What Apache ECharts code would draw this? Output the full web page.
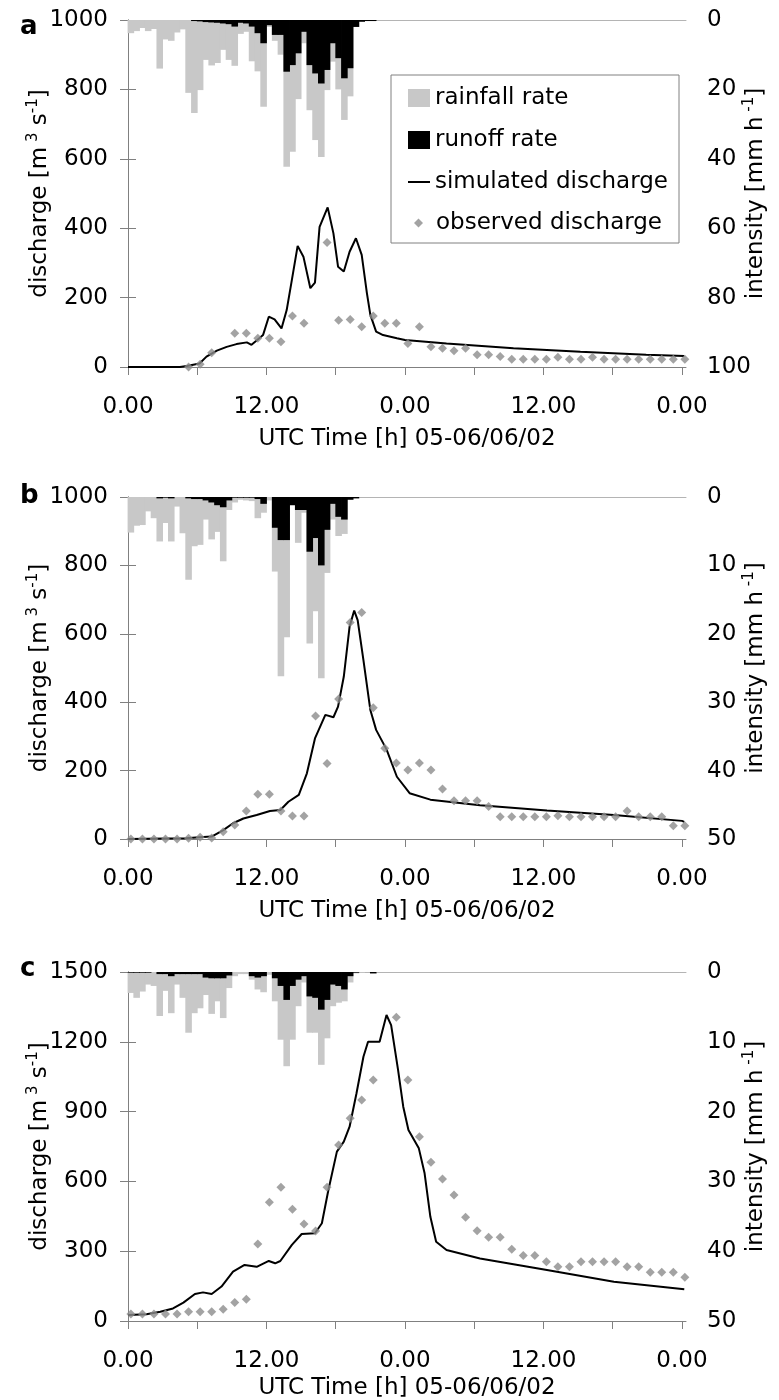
<!DOCTYPE html>
<html><head><meta charset="utf-8">
<script src="https://cdn.jsdelivr.net/npm/echarts@6/dist/echarts.min.js"></script>
<style>html,body{margin:0;padding:0;background:#fff}#c{width:779px;height:1400px}</style>
</head><body><div id="c"></div>
<script>
// ---------- tick labels ----------
const xTickValues = [0, 6, 12, 18, 24, 30, 36, 42, 48];
const xLabelValues = [0, 12, 24, 36, 48];
const xTickLabels = ['0.00', '12.00', '0.00', '12.00', '0.00'];
const panelLetters = ['a', 'b', 'c'];
const leftMax = [1000, 1000, 1500];
const leftInterval = [200, 200, 300];
const rightMax = [100, 50, 50];
const rightInterval = [20, 10, 10];

// ---------- rainfall / runoff rate (mm/h), half-hour bins from 0 h ----------
const rainA = [3.8,3.2,2.3,3.2,2.6,14.0,5.6,6.0,3.6,2.7,21.0,26.8,20.2,11.5,13.1,12.4,8.6,11.5,13.2,4.0,3.4,11.9,14.8,25.0,2.0,6.0,10.0,42.3,38.0,22.8,6.7,26.0,34.6,39.5,20.2,12.0,20.0,28.8,22.0,2.0,0.5,0.3,0.3];
const runA  = [0,0,0,0,0,0,0,0,0,0,0,0.3,0.4,0.6,0.7,0.8,1.0,1.2,1.9,0.8,1.0,1.9,3.8,6.7,1.5,4.3,4.3,14.9,13.0,9.6,3.4,13.0,15.4,18.3,14.4,6.7,11.0,16.8,13.9,2.0,0.5,0.3,0.3];
const rainB = [5.2,4.2,4.1,2.1,3.1,6.5,3.8,6.5,1.4,5.3,12.1,7.2,7.0,3.3,6.2,5.1,9.4,1.9,0.8,0.4,0.5,0.6,3.1,2.3,0.5,10.9,26.2,20.5,1.2,6.7,2.3,21.4,16.7,26.5,11.1,3.3,5.7,5.4,0.4,0.2];
const runB  = [0,0,0,0,0,0.2,0.1,0.2,0,0,0.2,0.3,0.3,0.5,0.8,1.2,1.5,0.5,0.1,0.1,0.1,0.1,0.3,1.0,0,4.5,6.3,6.3,1.2,1.9,1.9,8.0,6.0,10.0,4.8,1.0,2.9,3.3,0.4,0.2];
const rainC = [3.0,3.7,2.8,1.8,2.0,6.3,2.7,5.9,1.8,3.7,8.7,5.9,5.2,3.3,6.0,4.2,6.6,2.3,0.6,0.3,0.3,1.1,2.5,2.9,0.4,4.2,9.7,13.5,9.7,4.9,1.5,8.7,8.7,13.3,9.5,4.9,4.4,4.2,1.5,0.2,0.1,0,0.2];
const runC  = [0.1,0.1,0.1,0.1,0,0.3,0.3,0.6,0.3,0.3,0.3,0.3,0.3,0.8,0.9,0.9,0.9,0.5,0,0,0,0.6,0.8,0.6,0,0.9,2.0,4.0,2.0,1.1,0.6,3.5,3.7,5.4,4.0,1.8,2.0,2.5,0.6,0.1,0,0,0.2];

// ---------- simulated discharge (m3/s): [hour, value] ----------
const simA = [[0,0],[4.5,0],[5.1,3],[6.2,10],[6.8,30],[7.7,47],[8.55,58],[9.4,66],[10.3,71],[10.7,64],[11.2,78],[11.7,92],[12.2,145],[12.7,137],[13.3,111],[13.75,164],[14.2,251],[14.7,349],[15.2,318],[15.8,227],[16.2,243],[16.6,404],[17.3,460],[17.8,385],[18.2,289],[18.7,275],[19.2,332],[19.75,371],[20.25,323],[20.7,213],[21.0,150],[21.5,102],[22.1,92],[23.3,83],[24,78],[27.6,68],[33.4,54],[39.2,44],[44.9,35],[48.2,32]];
const simB = [[0,0],[5,2],[6.2,5],[7.25,7],[8.26,26],[9.1,46],[10.0,60],[11.15,70],[12.3,82],[13.2,85],[13.9,109],[14.8,129],[15.5,192],[16.2,294],[17.1,363],[17.8,356],[18.2,387],[18.7,475],[19.2,621],[19.6,668],[19.9,640],[20.4,523],[21.0,377],[21.5,319],[22.4,262],[23.3,182],[24.4,134],[26.2,115],[30.5,99],[36.3,83],[42.1,70],[48.0,53],[48.2,50]];
const simC = [[0,26],[1.6,29],[2.8,40],[3.9,54],[4.8,79],[5.8,116],[6.5,123],[7.25,116],[8.1,148],[9.1,212],[10.1,241],[11.15,233],[12.2,258],[12.75,248],[13.2,258],[14.2,327],[15.05,374],[16.2,377],[16.8,420],[17.35,560],[18.1,728],[18.7,771],[19.2,835],[19.8,979],[20.4,1136],[20.8,1200],[21.8,1200],[22.4,1315],[22.8,1272],[23.4,1079],[23.85,921],[24.3,821],[25.2,742],[25.7,635],[26.2,448],[26.7,341],[27.6,305],[30.5,269],[36.3,219],[42.1,169],[48.2,136]];

// ---------- observed discharge (m3/s), hourly from 0 h (null = not shown) ----------
const obsA = [null,null,null,null,null,0,8,41,null,97,97,83,83,73,147,126,null,359,135,137,116,147,126,126,68,116,58,54,47,54,35,35,30,22,22,22,22,28,22,22,28,22,22,22,22,22,22,22,22];
const obsB = [0,0,0,0,0,2,5,3,21,41,82,131,131,82,67,67,360,221,409,633,662,384,265,222,202,222,202,146,112,112,112,95,65,65,65,65,65,68,65,65,65,65,65,82,65,65,65,39,39];
const obsC = [30,30,30,30,30,40,40,40,50,79,93,331,510,575,480,417,387,575,756,871,950,1036,null,1305,1036,792,682,610,542,446,388,360,360,308,281,281,255,233,233,255,255,255,255,233,233,209,209,209,188];

const rains = [rainA, rainB, rainC];
const runs = [runA, runB, runC];
const sims = [simA, simB, simC];
const obss = [obsA, obsB, obsC];

// ---------- layout ----------
const FONT = 'DejaVu Sans';
const gridLeft = 128, gridWidth = 558;
const gridTops = [20, 497, 972];
const gridHeights = [347, 342, 349];
const xNameGaps = [61, 61, 56];
const xMax = 48.35;
const binWidthPx = gridWidth / xMax * 0.5 + 0.8;
const axisGray = '#808080';

const chart = echarts.init(document.getElementById('c'), null, {renderer: 'canvas'});

const grid = [], xAxis = [], yAxis = [], series = [], graphic = [];
const txt = {fontFamily: FONT, fontSize: 23, color: '#000'};
const nameRich = {
  t: {fontFamily: FONT, fontSize: 23, color: '#000', lineHeight: 28},
  s: {fontFamily: FONT, fontSize: 15, color: '#000', verticalAlign: 'top', lineHeight: 28}
};
const plainNum = v => String(v);

for (let k = 0; k < 3; k++) {
  grid.push({left: gridLeft, top: gridTops[k], width: gridWidth, height: gridHeights[k], containLabel: false, outerBoundsMode: 'none'});
  xAxis.push({
    type: 'value', gridIndex: k, min: 0, max: xMax, position: 'bottom',
    axisLine: {show: true, lineStyle: {color: axisGray, width: 1}},
    axisTick: {show: true, length: 8, customValues: xTickValues, lineStyle: {color: axisGray}},
    axisLabel: {customValues: xLabelValues, formatter: v => xTickLabels[xLabelValues.indexOf(v)], margin: 29, ...txt},
    splitLine: {show: false},
    name: 'UTC Time [h] 05-06/06/02', nameLocation: 'middle', nameGap: xNameGaps[k], nameMoveOverlap: false,
    nameTextStyle: {...txt}
  });
  xAxis.push({
    type: 'value', gridIndex: k, min: 0, max: xMax, position: 'top',
    axisLine: {show: true, lineStyle: {color: '#b4b4b4', width: 1}},
    axisTick: {show: false}, axisLabel: {show: false}, splitLine: {show: false}
  });
  yAxis.push({
    type: 'value', gridIndex: k, position: 'left', min: 0, max: leftMax[k], interval: leftInterval[k],
    axisLine: {show: true, lineStyle: {color: axisGray}},
    axisTick: {show: true, length: 8, lineStyle: {color: axisGray}},
    axisLabel: {margin: 20, formatter: plainNum, ...txt},
    splitLine: {show: false},
    name: '{t|discharge [m}{s| 3}{t| s}{s|-1}{t|]}', nameLocation: 'middle', nameGap: 74, nameRotate: 90, nameMoveOverlap: false,
    nameTextStyle: {rich: nameRich}
  });
  yAxis.push({
    type: 'value', gridIndex: k, position: 'right', inverse: true, min: 0, max: rightMax[k], interval: rightInterval[k],
    axisLine: {show: true, lineStyle: {color: axisGray}},
    axisTick: {show: true, length: 8, lineStyle: {color: axisGray}},
    axisLabel: {margin: 21, formatter: plainNum, ...txt},
    splitLine: {show: false},
    name: '{t|intensity [mm h}{s| -1}{t|]}', nameLocation: 'middle', nameGap: 56, nameRotate: 90, nameMoveOverlap: false,
    nameTextStyle: {rich: nameRich}
  });

  const binCenter = i => i * 0.5 + 0.25;
  series.push({
    name: 'rainfall rate', type: 'bar', xAxisIndex: 2 * k, yAxisIndex: 2 * k + 1,
    data: rains[k].map((v, i) => [binCenter(i), v]),
    barWidth: binWidthPx, barGap: '-100%', itemStyle: {color: '#c8c8c8'}, z: 1, silent: true
  });
  series.push({
    name: 'runoff rate', type: 'bar', xAxisIndex: 2 * k, yAxisIndex: 2 * k + 1,
    data: runs[k].map((v, i) => [binCenter(i), v]),
    barWidth: binWidthPx, barGap: '-100%', itemStyle: {color: '#000'}, z: 2, silent: true
  });
  series.push({
    name: 'simulated discharge', type: 'line', xAxisIndex: 2 * k, yAxisIndex: 2 * k,
    data: sims[k], symbol: 'none', showSymbol: false,
    lineStyle: {color: '#000', width: 2}, itemStyle: {color: '#000'}, z: 3, silent: true
  });
  series.push({
    name: 'observed discharge', type: 'scatter', xAxisIndex: 2 * k, yAxisIndex: 2 * k,
    data: obss[k].map((v, h) => v === null ? null : [h + 0.25, v]).filter(d => d),
    symbol: 'diamond', symbolSize: 9, itemStyle: {color: '#8c8c8c'}, z: 4, clip: false, silent: true
  });
}

const letterTops = [14, 483, 956];
for (let k = 0; k < 3; k++) {
  graphic.push({type: 'text', left: 20, top: letterTops[k], style: {text: panelLetters[k], font: 'bold 26px "DejaVu Sans"', fill: '#000'}});
}

chart.setOption({
  animation: false,
  backgroundColor: '#fff',
  grid, xAxis, yAxis, series, graphic,
  legend: [
    {
      left: 391, top: 75, orient: 'vertical', selectedMode: false,
      data: [
        {name: 'rainfall rate', icon: 'rect'},
        {name: 'runoff rate', icon: 'rect'},
        {name: 'simulated discharge', itemStyle: {color: 'rgba(0,0,0,0)', borderColor: 'rgba(0,0,0,0)', borderWidth: 0}}
      ],
      itemWidth: 22, itemHeight: 18, itemGap: 16,
      padding: [10, 11, 48, 16],
      borderColor: axisGray, borderWidth: 1, backgroundColor: '#fff',
      textStyle: {fontFamily: FONT, fontSize: 23, color: '#000', lineHeight: 26}
    },
    {
      left: 414, top: 210, orient: 'vertical', selectedMode: false,
      data: ['observed discharge'],
      itemWidth: 9, itemHeight: 9, padding: 0,
      textStyle: {fontFamily: FONT, fontSize: 23, color: '#000', lineHeight: 26, padding: [0, 0, 0, 8]}
    }
  ]
});
</script></body></html>
